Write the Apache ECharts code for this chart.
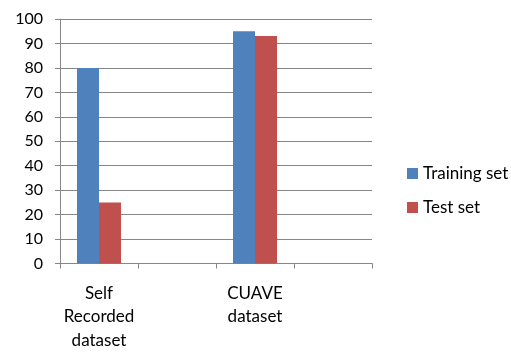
<!DOCTYPE html>
<html><head><meta charset="utf-8">
<script src="https://cdn.jsdelivr.net/npm/echarts@6/dist/echarts.min.js"></script>
<style>html,body{margin:0;padding:0;background:#fff}#c{width:511px;height:352px}</style>
</head><body><div id="c"></div>
<script>
var categories = ['Self\nRecorded\ndataset', '', 'CUAVE\ndataset', ''];
var trainingSet = [80, null, 95, null];
var testSet = [25, null, 93, null];
var seriesNames = ['Training set', 'Test set'];
var yTicks = {min: 0, max: 100, interval: 10};

var chart = echarts.init(document.getElementById('c'));
var font = 'Lato, "Open Sans", sans-serif';
chart.setOption({
  animation: false,
  grid: {left: 60, right: 139, top: 19, bottom: 86},
  legend: {
    orient: 'vertical', left: 402, top: 160,
    itemWidth: 11, itemHeight: 11, itemGap: 17,
    icon: 'rect',
    textStyle: {fontFamily: font, fontSize: 17, color: '#000', padding: [0, 0, 0, 0]},
    data: seriesNames
  },
  xAxis: {
    type: 'category', data: categories,
    axisLine: {lineStyle: {color: '#868686'}},
    axisTick: {show: true, length: 5, lineStyle: {color: '#868686'}},
    axisLabel: {interval: 0, margin: 18, fontFamily: font, fontSize: 17, color: '#000', lineHeight: 23.5}
  },
  yAxis: {
    type: 'value', min: yTicks.min, max: yTicks.max, interval: yTicks.interval,
    axisLine: {show: true, lineStyle: {color: '#868686'}},
    axisTick: {show: true, length: 5, lineStyle: {color: '#868686'}},
    splitLine: {lineStyle: {color: '#868686'}},
    axisLabel: {margin: 17, fontFamily: font, fontSize: 16, color: '#000'}
  },
  series: [
    {name: seriesNames[0], type: 'bar', data: trainingSet, barWidth: 22, barGap: '0%', itemStyle: {color: '#4F81BD'}},
    {name: seriesNames[1], type: 'bar', data: testSet, barWidth: 22, itemStyle: {color: '#C0504D'}}
  ]
});
</script></body></html>
